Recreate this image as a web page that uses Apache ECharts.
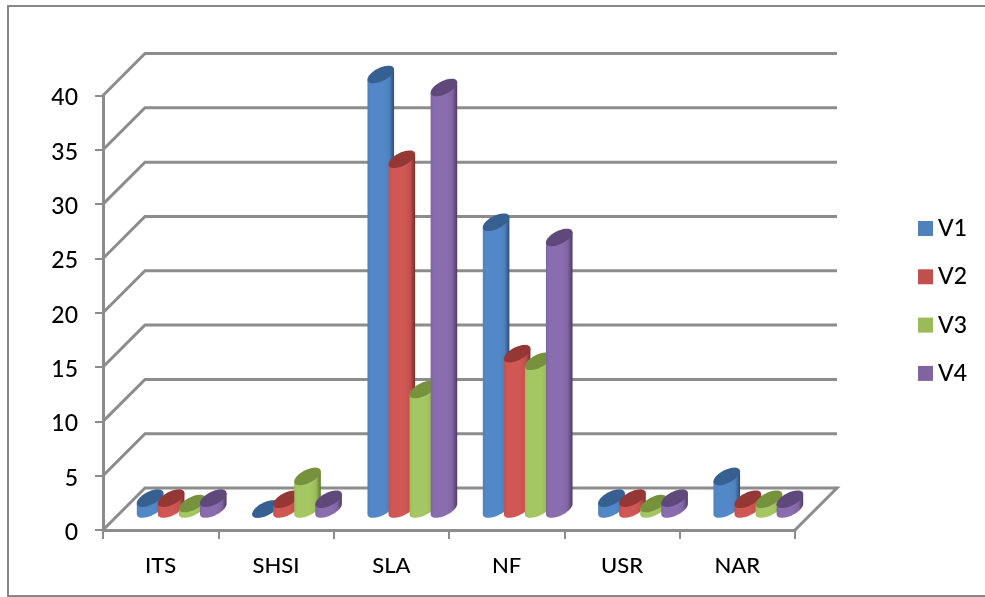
<!DOCTYPE html>
<html>
<head>
<meta charset="utf-8">
<style>html,body{margin:0;padding:0;background:#fff}#chart{width:985px;height:597px}</style>
<script src="https://cdn.jsdelivr.net/npm/echarts@6/dist/echarts.min.js"></script>
</head>
<body>
<div id="chart"></div>
<script>
const categories = ['ITS', 'SHSI', 'SLA', 'NF', 'USR', 'NAR'];
const yTicks = [0, 5, 10, 15, 20, 25, 30, 35, 40];
const V1 = [1, 0, 40, 26.4, 1, 3];
const V2 = [1, 0.9, 32.2, 14.3, 1, 0.9];
const V3 = [0.5, 3, 11, 13.6, 0.5, 0.9];
const V4 = [1, 0.9, 38.8, 25, 1, 0.9];

const seriesNames = ['V1', 'V2', 'V3', 'V4'];
const seriesValues = [V1, V2, V3, V4];
const bodyColors = ['#4F81BD', '#C0504D', '#9BBB59', '#8064A2'];
const lightColors = ['#5288C8', '#D05754', '#A5C763', '#8A6DAE'];
const darkColors = ['#2C4D75', '#772C2A', '#5F7530', '#4D3B62'];
const topColors = ['#376092', '#953735', '#76923C', '#5F497A'];

const WALL = '#8C8C8C';
const DEPTH_X = 42;
const DEPTH_Y = -42;
const STEP_RATIO = 0.1825;   // column spacing as a share of the category band
const RX = 13.3, RY = 8.8, PHASE = 0.95;

const ellipsePoint = (cx, cy, t) => [cx + RX * Math.cos(t), cy - RY * Math.cos(t - PHASE)];

function renderWall(params, api) {
  const tick = api.value(0);
  const g = params.coordSys;
  const y = api.coord([0, tick])[1];
  const left = g.x, right = g.x + g.width;
  const style = { stroke: WALL, lineWidth: 3, fill: null };
  const pts = [[left, y], [left + DEPTH_X, y + DEPTH_Y], [right + DEPTH_X, y + DEPTH_Y]];
  if (tick === 0) pts.push([right, y]);
  return { type: 'polyline', shape: { points: pts }, style };
}

function renderColumn(idx) {
  return function (params, api) {
    const band = api.size([1, 0])[0];
    const front = api.coord([api.value(0), api.value(1)]);
    const base = api.coord([api.value(0), 0]);
    const cx = front[0] + DEPTH_X / 2 + (idx - 1.5) * band * STEP_RATIO;
    const topY = front[1] + DEPTH_Y / 2;
    const baseY = base[1] + DEPTH_Y / 2;
    const body = [];
    for (let i = 0; i <= 24; i++) {
      body.push(ellipsePoint(cx, baseY, Math.PI + Math.PI * i / 24));
    }
    body.push(ellipsePoint(cx, topY, 0));
    body.push(ellipsePoint(cx, topY, Math.PI));
    const cap = [];
    for (let i = 0; i < 48; i++) {
      cap.push(ellipsePoint(cx, topY, 2 * Math.PI * i / 48));
    }
    const fill = new echarts.graphic.LinearGradient(0, 0, 1, 0, [
      { offset: 0, color: bodyColors[idx] },
      { offset: 0.12, color: lightColors[idx] },
      { offset: 0.62, color: lightColors[idx] },
      { offset: 0.82, color: bodyColors[idx] },
      { offset: 1, color: darkColors[idx] }
    ]);
    return {
      type: 'group',
      children: [
        { type: 'polygon', shape: { points: body }, style: { fill } },
        { type: 'polygon', shape: { points: cap }, style: { fill: topColors[idx] } }
      ]
    };
  };
}

const wallSeries = {
  name: 'walls',
  type: 'custom',
  z: 1,
  silent: true,
  clip: false,
  data: yTicks.map(t => [t]),
  encode: { y: 0 },
  renderItem: renderWall
};

const columnSeries = seriesNames.map((name, idx) => ({
  name,
  type: 'custom',
  z: 5 + idx,
  clip: false,
  itemStyle: { color: bodyColors[idx] },
  data: seriesValues[idx].map((v, c) => [c, v]),
  encode: { x: 0, y: 1 },
  renderItem: renderColumn(idx)
}));

const chart = echarts.init(document.getElementById('chart'), null, { renderer: 'canvas' });
chart.setOption({
  animation: false,
  backgroundColor: '#fff',
  textStyle: { fontFamily: 'Lato' },
  graphic: [{
    type: 'rect',
    z: 0,
    shape: { x: 8, y: 6, width: 990, height: 590 },
    style: { fill: '#fff', stroke: '#868686', lineWidth: 2 }
  }],
  grid: { left: 103, right: 190, top: 95.5, bottom: 67, containLabel: false },
  legend: {
    orient: 'vertical',
    left: 918,
    top: 217,
    padding: 0,
    itemWidth: 15,
    itemHeight: 15,
    itemGap: 25.3,
    icon: 'rect',
    data: seriesNames,
    selectedMode: false,
    textStyle: { fontSize: 23, color: '#000', fontFamily: 'Lato', fontWeight: 500 }
  },
  xAxis: {
    type: 'category',
    data: categories,
    z: 3,
    axisLine: { lineStyle: { color: WALL, width: 3 } },
    axisTick: { show: true, alignWithLabel: false, length: 9, lineStyle: { color: WALL, width: 2 } },
    axisLabel: { color: '#000', fontSize: 22, margin: 25, fontFamily: 'Lato', fontWeight: 500 },
    splitLine: { show: false }
  },
  yAxis: {
    type: 'value',
    min: 0,
    max: 40,
    interval: 5,
    z: 3,
    axisLine: { show: true, lineStyle: { color: WALL, width: 3 } },
    axisTick: { show: true, length: 8, lineStyle: { color: WALL, width: 2 } },
    axisLabel: {
      color: '#000',
      margin: 25,
      formatter: '{n|{value}}',
      rich: {
        n: { fontSize: 23, color: '#000', fontFamily: 'Lato', fontWeight: 500, padding: [5, 0, 0, 0] }
      }
    },
    splitLine: { show: false }
  },
  series: [wallSeries, ...columnSeries]
});
</script>
</body>
</html>
